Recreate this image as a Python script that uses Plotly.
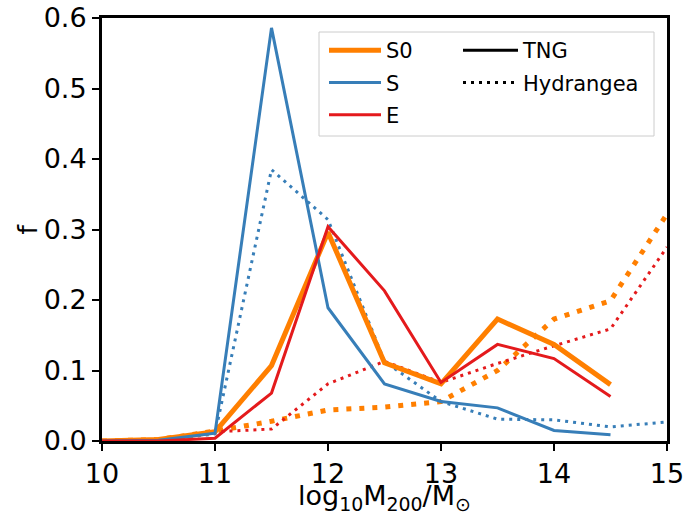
import plotly.graph_objects as go

# ---- data ----
x_tng = [10, 10.5, 11, 11.5, 12, 12.5, 13, 13.5, 14, 14.5]
x_hyd = [10, 10.5, 11, 11.5, 12, 12.5, 13, 13.5, 14, 14.5, 15]

tng_s0 = [0.0, 0.002, 0.013, 0.107, 0.296, 0.111, 0.081, 0.173, 0.137, 0.080]
tng_s = [0.0, 0.001, 0.011, 0.586, 0.189, 0.081, 0.056, 0.047, 0.015, 0.009]
tng_e = [0.0, 0.0, 0.004, 0.068, 0.304, 0.213, 0.083, 0.137, 0.117, 0.063]

hyd_s0 = [0.0, 0.002, 0.014, 0.028, 0.044, 0.048, 0.056, 0.100, 0.173, 0.199, 0.322]
hyd_s = [0.0, 0.001, 0.010, 0.385, 0.314, 0.113, 0.056, 0.031, 0.030, 0.020, 0.027]
hyd_e = [0.0, 0.002, 0.013, 0.017, 0.081, 0.113, 0.083, 0.110, 0.135, 0.159, 0.275]

xticks = [10, 11, 12, 13, 14, 15]
yticks = [0.0, 0.1, 0.2, 0.3, 0.4, 0.5, 0.6]

C_S0 = "#ff7f00"
C_S = "#377eb8"
C_E = "#e41a1c"

fig = go.Figure()

def add(x, y, color, width, dash):
    fig.add_trace(go.Scatter(x=x, y=y, mode="lines", showlegend=False,
                             line=dict(color=color, width=width, dash=dash)))

add(x_hyd, hyd_s0, C_S0, 5, "5px,8px")
add(x_hyd, hyd_s, C_S, 3, "3px,5px")
add(x_hyd, hyd_e, C_E, 3, "3px,5px")
add(x_tng, tng_s0, C_S0, 5, "solid")
add(x_tng, tng_s, C_S, 3, "solid")
add(x_tng, tng_e, C_E, 3, "solid")

# legend entries
def leg(name, color, width, dash, legend, group):
    fig.add_trace(go.Scatter(x=[None], y=[None], mode="lines", name=name,
                             line=dict(color=color, width=width, dash=dash),
                             legend=legend, legendgroup=group, showlegend=True))

leg("S0", C_S0, 5, "solid", "legend", "a")
leg("S", C_S, 3, "solid", "legend", "b")
leg("E", C_E, 3, "solid", "legend", "c")
leg("TNG", "black", 3, "solid", "legend2", "d")
leg("Hydrangea", "black", 3, "3px,5px", "legend2", "e")

L, R, T, B = 102, 17, 18, 74
W, H = 684, 515
pw, ph = W - L - R, H - T - B

def px(xp):
    return (xp - L) / pw

def py(yp):
    return (H - B - yp) / ph

fig.add_shape(type="rect", xref="paper", yref="paper",
              x0=px(319), x1=px(654), y0=py(136), y1=py(32),
              line=dict(color="#cccccc", width=1), fillcolor="rgba(255,255,255,0.8)",
              layer="above")

legend_common = dict(font=dict(family="DejaVu Sans", size=21, color="black"),
                     bgcolor="rgba(0,0,0,0)", borderwidth=0, tracegroupgap=2,
                     xanchor="left", yanchor="top")

axis_common = dict(showgrid=False, zeroline=False, showline=True, linecolor="black",
                   linewidth=3, mirror=True, ticks="outside", ticklen=7, tickwidth=2,
                   tickcolor="black", tickfont=dict(size=27), automargin=False,
                   ticklabeloverflow="allow")

fig.add_annotation(text="log<sub>10</sub>M<sub>200</sub>/M<sub>⊙</sub>",
                   xref="paper", yref="paper", x=0.5, y=py(478),
                   xanchor="center", yanchor="top", showarrow=False,
                   font=dict(size=27, family="DejaVu Sans", color="black"))
fig.add_annotation(text="f", xref="paper", yref="paper", x=px(27), y=0.5,
                   xanchor="center", yanchor="middle", showarrow=False,
                   textangle=-90,
                   font=dict(size=27, family="DejaVu Sans", color="black"))

fig.update_layout(
    width=W, height=H,
    margin=dict(l=L, r=R, t=T, b=B),
    paper_bgcolor="white", plot_bgcolor="white",
    font=dict(family="DejaVu Sans", color="black"),
    legend=dict(x=px(324), y=py(30), itemwidth=52, **legend_common),
    legend2=dict(x=px(458), y=py(30), itemwidth=55, **legend_common),
    xaxis=dict(range=[10, 15], tickvals=xticks, ticktext=[str(v) for v in xticks],
               **axis_common),
    yaxis=dict(range=[0, 0.6], tickvals=yticks, tickformat=".1f",
               **axis_common),
)

fig.write_html("out.html")
